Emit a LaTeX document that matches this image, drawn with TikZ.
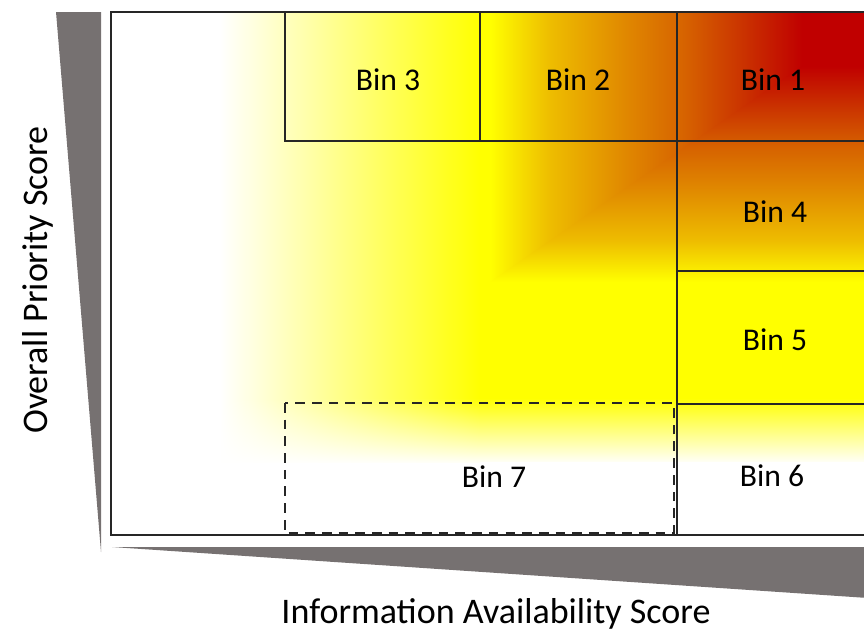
\documentclass[tikz,border=0pt]{standalone}
\usepackage{fontspec}
\setmainfont{Carlito}
\usetikzlibrary{fadings}

\definecolor{wedgegray}{RGB}{118,113,113}
\definecolor{hotred}{RGB}{192,0,0}
\definecolor{hotrust}{RGB}{202,50,0}
\definecolor{hotorange}{RGB}{214,98,0}
\definecolor{warmorange}{RGB}{224,135,0}
\definecolor{warmamber}{RGB}{238,190,0}
\definecolor{binyellow}{RGB}{255,255,0}

% yellow at 25bp, red at 75bp (the path's two edges)
\def\heatstops{color(0bp)=(binyellow); color(25bp)=(binyellow);
  color(32.5bp)=(warmamber); color(42.5bp)=(warmorange);
  color(50bp)=(hotorange); color(57.5bp)=(hotrust);
  color(65bp)=(hotred); color(100bp)=(hotred)}
\pgfdeclarehorizontalshading{heatx}{100bp}{\heatstops}
\pgfdeclareverticalshading{heaty}{100bp}{\heatstops}

\begin{document}
\begin{tikzpicture}[x=0.02cm, y=-0.02cm,
    binline/.style={line width=1.1pt, draw=black!85},
    binlabel/.style={font=\fontsize{18}{20}\selectfont},
    axislabel/.style={font=\fontsize{20.5}{23}\selectfont},
    wedge/.style={fill=wedgegray}]
  \useasboundingbox (0, 0) rectangle (864, 632);

  % background colour field
  \shade[left color=white, right color=binyellow]
    (220, 12) rectangle (480, 462);
  \fill[binyellow] (480, 12) rectangle (880, 462);

  % hot corner: y decides below the crease, x above it
  \coordinate (hot) at (880, 12);
  \coordinate (crease) at (490, 282);
  \shade[shading=heaty] (490, 12) rectangle (880, 282);
  \begin{scope}
    \clip (hot) -- (480, 12) -- (crease) -- cycle;
    \shade[shading=heatx] (490, 12) rectangle (880, 282);
  \end{scope}

  \fill[white, path fading=north] (111, 398) rectangle (880, 464);

  % axis wedges
  \fill[wedge] (56, 12) -- (101, 12) -- (101, 552) -- cycle;
  \fill[wedge] (112, 547) -- (868, 547) -- (868, 598) -- cycle;

  % frame and bins
  \draw[binline] (868, 12) -- (111, 12) -- (111, 535) -- (868, 535);
  \draw[binline] (285, 12) -- (285, 141) -- (868, 141);
  \draw[binline] (480, 12) -- (480, 141);
  \draw[binline] (677, 12) -- (677, 535);
  \draw[binline] (677, 271) -- (868, 271);
  \draw[binline] (677, 404) -- (868, 404);
  \draw[binline, dash pattern=on 5.5pt off 4pt]
    (285, 403) rectangle (674, 533);

  \node[binlabel] (bin1) at (773, 80) {Bin 1};
  \node[binlabel] (bin2) at (578, 80) {Bin 2};
  \node[binlabel] (bin3) at (388, 80) {Bin 3};
  \node[binlabel] (bin4) at (775, 212) {Bin 4};
  \node[binlabel] (bin5) at (775, 340) {Bin 5};
  \node[binlabel] (bin6) at (772, 476) {Bin 6};
  \node[binlabel] (bin7) at (494, 477) {Bin 7};

  \node[axislabel, rotate=90] (ylab) at (38, 280) {Overall Priority Score};
  \node[axislabel] (xlab) at (496, 614) {Information Availability Score};

\end{tikzpicture}
\end{document}
